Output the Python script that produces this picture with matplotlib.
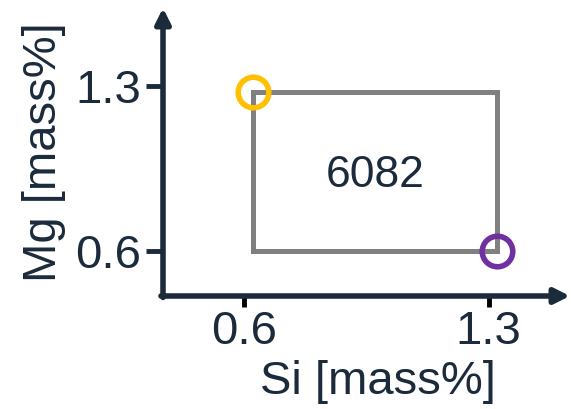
import matplotlib
matplotlib.use('Agg')
import matplotlib.pyplot as plt

# alloy composition window (Si, Mg) in mass%
alloy = '6082'
si_range = [0.624, 1.323]
mg_range = [0.6, 1.273]
label_pos = (0.975, 0.92)
tick_vals = [0.6, 1.3]
tick_labels = ['0.6', '1.3']

navy = '#1c2b3c'
plt.rcParams['font.family'] = ['Liberation Sans', 'DejaVu Sans']

fig = plt.figure(figsize=(5.71, 4.09), dpi=100)
ax = fig.add_axes([163/571, 113/409, 407/571, 288/409])
ax.set_xlim(0.367, 1.533)
ax.set_ylim(0.408, 1.63)

# composition window
xs = [si_range[0], si_range[1], si_range[1], si_range[0], si_range[0]]
ys = [mg_range[1], mg_range[1], mg_range[0], mg_range[0], mg_range[1]]
ax.plot(xs, ys, color='#808080', lw=3.6, solid_joinstyle='miter', zorder=2)
ax.plot(si_range[0], mg_range[1], 'o', ms=22, mfc='none', mec='#ffc000', mew=4, zorder=3)
ax.plot(si_range[1], mg_range[0], 'o', ms=22, mfc='none', mec='#7030a0', mew=4, zorder=3)
ax.text(label_pos[0], label_pos[1], alloy, fontsize=32, color=navy,
        ha='center', va='center')

# axes with arrow heads
for s in ax.spines.values():
    s.set_visible(False)
ax.annotate('', xy=(1.0, 0), xytext=(-0.005, 0), xycoords='axes fraction',
            arrowprops=dict(arrowstyle='-|>,head_length=0.9,head_width=0.45',
                            color=navy, lw=4, shrinkA=0, shrinkB=0), annotation_clip=False)
ax.annotate('', xy=(0, 1.0), xytext=(0, -0.005), xycoords='axes fraction',
            arrowprops=dict(arrowstyle='-|>,head_length=0.9,head_width=0.45',
                            color=navy, lw=4, shrinkA=0, shrinkB=0), annotation_clip=False)

ax.set_xticks(tick_vals)
ax.set_xticklabels(tick_labels)
ax.set_yticks(tick_vals)
ax.set_yticklabels(tick_labels)
ax.tick_params(axis='x', length=8, width=3.5, color='black', labelsize=34,
               labelcolor=navy, pad=2)
ax.tick_params(axis='y', length=12, width=3.5, color=navy, labelsize=34,
               labelcolor=navy, pad=4)
ax.set_xlabel('Si [mass%]', fontsize=34, color=navy)
ax.xaxis.set_label_coords(0.528, -0.222)
ax.set_ylabel('Mg [mass%]', fontsize=34, color=navy, labelpad=6)

fig.savefig('out.png', dpi=100)
